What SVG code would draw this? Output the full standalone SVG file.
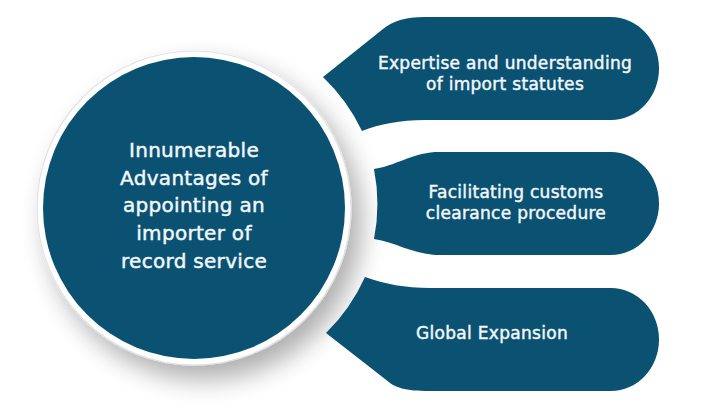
<svg xmlns="http://www.w3.org/2000/svg" width="712" height="416" viewBox="0 0 712 416">
<style>
.shape{fill:#0b5171}
.t{font-family:"DejaVu Sans",sans-serif;fill:#f2f8fa;stroke:#f2f8fa;stroke-width:0.45px;text-anchor:middle;letter-spacing:0.3px}
.tc{font-size:20px}
.tb{font-size:17px}
</style>
<defs>
<filter id="sh" x="-30%" y="-30%" width="170%" height="170%">
<feGaussianBlur in="SourceAlpha" stdDeviation="13"/>
<feOffset dx="10" dy="14" result="b"/>
<feComponentTransfer><feFuncA type="linear" slope="0.32"/></feComponentTransfer>
<feMerge><feMergeNode/><feMergeNode in="SourceGraphic"/></feMerge>
</filter>
</defs>
<rect width="712" height="416" fill="#ffffff"/>
<g id="center-node">
<circle cx="194" cy="208" r="157" fill="#ffffff" stroke="#e2e2e2" stroke-width="1.2" filter="url(#sh)"/>
<circle class="shape" cx="194" cy="208" r="151"/>
<text class="t tc" x="194" y="157">Innumerable</text>
<text class="t tc" x="194" y="185">Advantages of</text>
<text class="t tc" x="194" y="212">appointing an</text>
<text class="t tc" x="194" y="240">importer of</text>
<text class="t tc" x="194" y="268">record service</text>
</g>
<g id="node-expertise">
<path class="shape" d="M 323 77 L 383 29 C 393 21 405 17 425 17 L 611 17 A 48 51.5 0 0 1 611 120 L 425 120 C 400 120 380 124 362 131 A 184 184 0 0 0 323 77 Z"/>
<text class="t tb" x="505" y="69">Expertise and understanding</text>
<text class="t tb" x="505" y="90">of import statutes</text>
</g>
<g id="node-customs">
<path class="shape" d="M 374 169 C 395 166 410 154 435 152 L 611 152 A 48 51.5 0 0 1 611 255 L 435 255 C 410 253 395 242 374 239 A 182 182 0 0 0 374 169 Z"/>
<text class="t tb" x="516" y="198">Facilitating customs</text>
<text class="t tb" x="516" y="219">clearance procedure</text>
</g>
<g id="node-global">
<path class="shape" d="M 365 277 C 385 284 405 288 430 288 L 611 288 A 48 51.5 0 0 1 611 391 L 430 391 C 405 391 395 388 385 379 L 326 333 A 183 183 0 0 0 365 277 Z"/>
<text class="t tb" x="492" y="339">Global Expansion</text>
</g>
<g id="connectors"/>
</svg>
